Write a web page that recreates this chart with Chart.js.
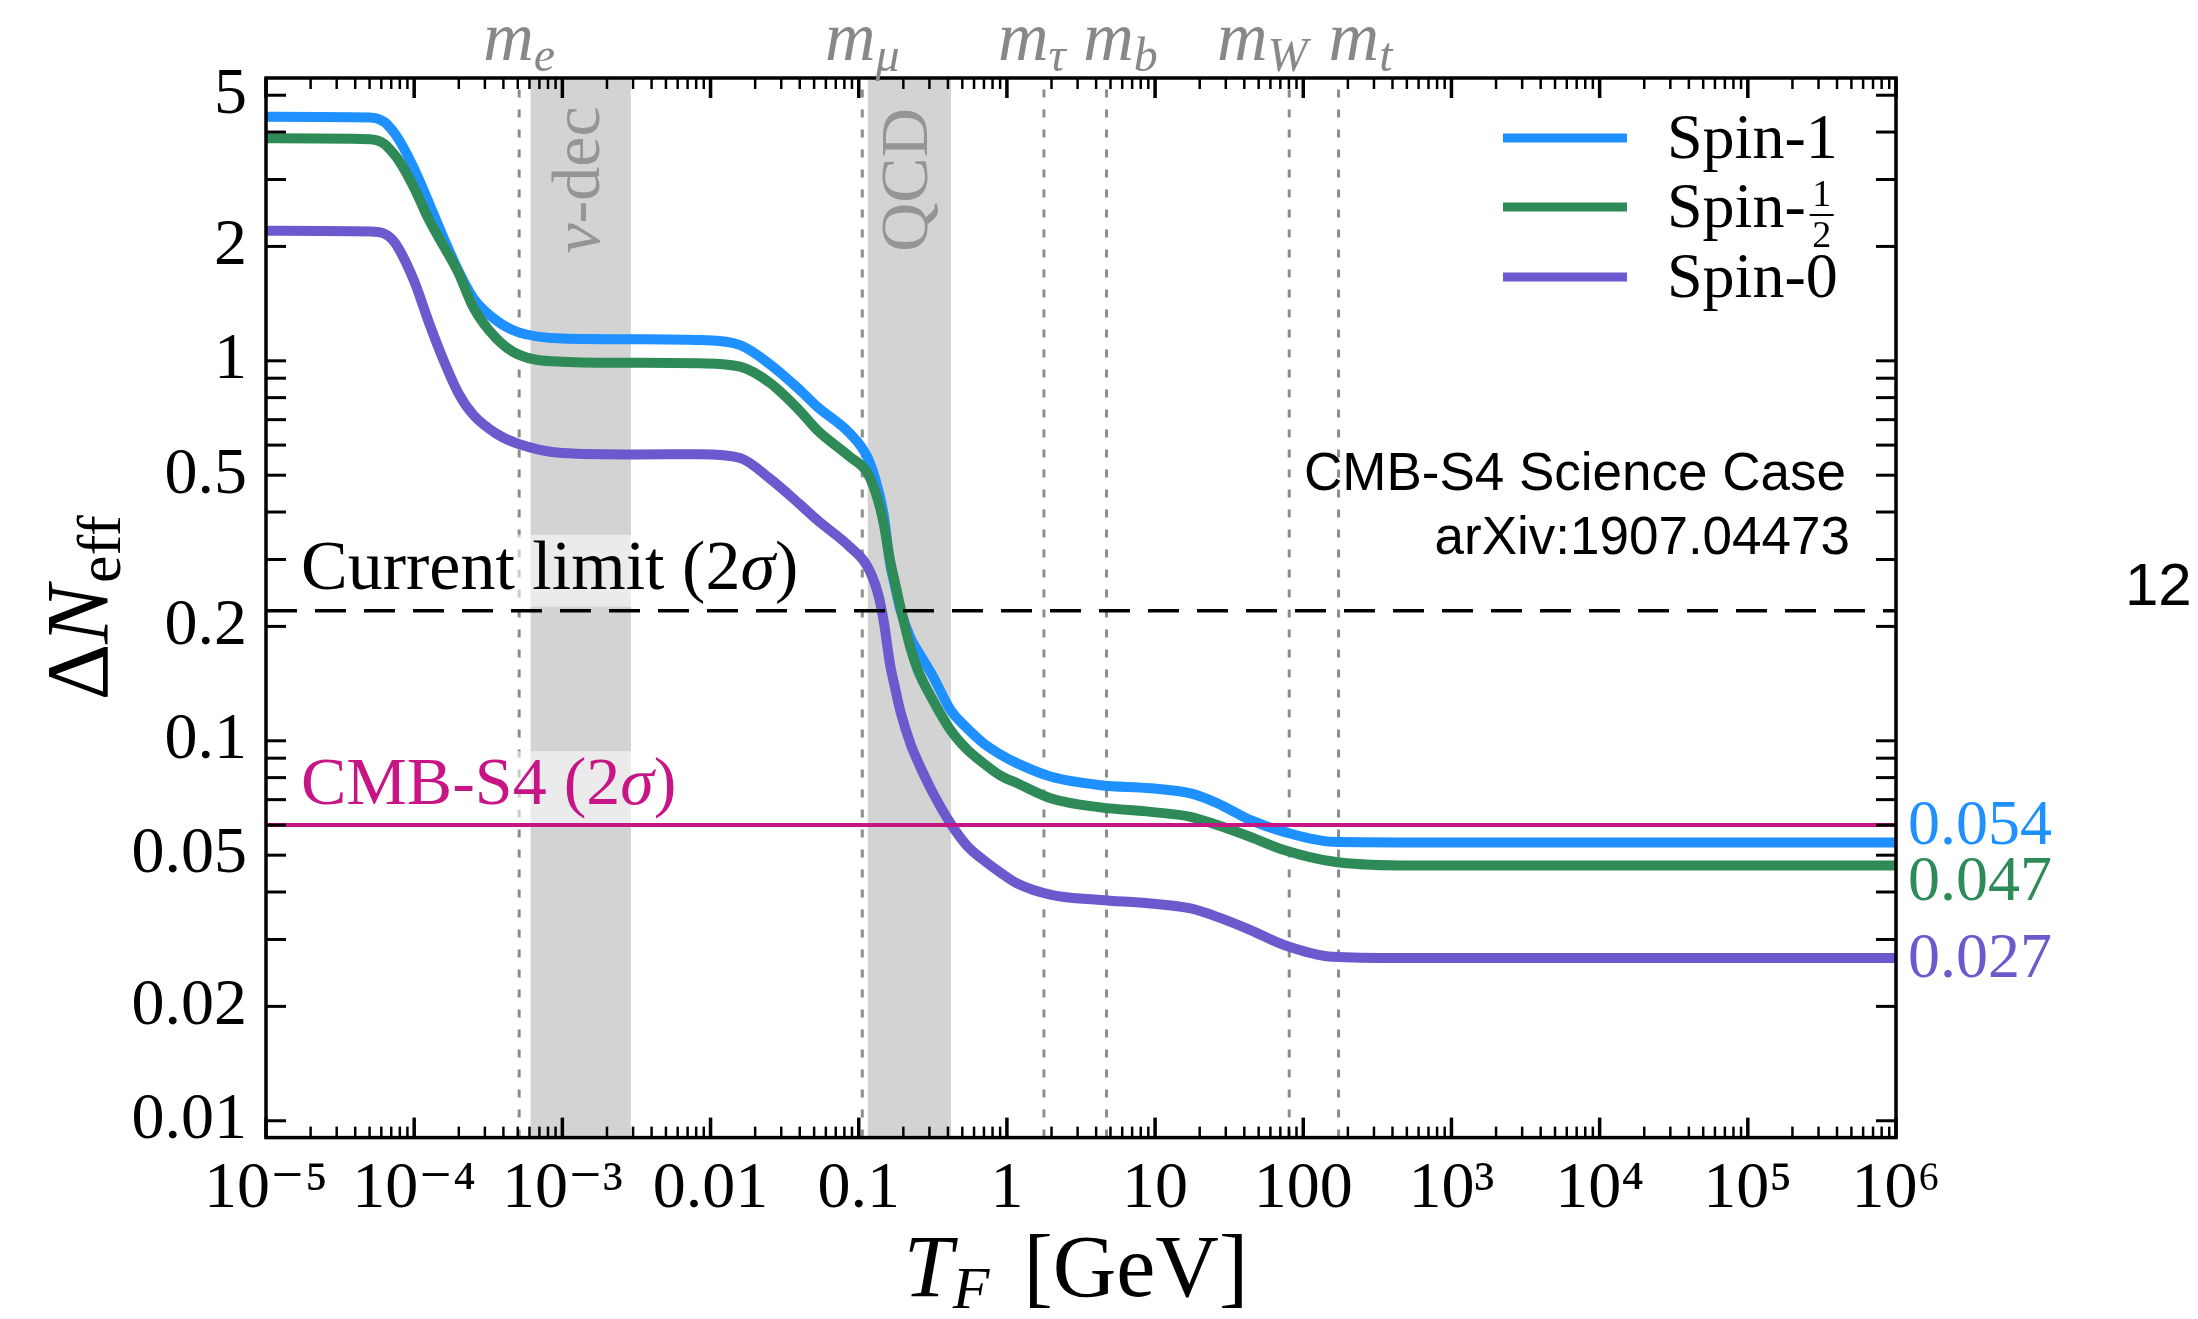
<!DOCTYPE html>
<html>
<head>
<meta charset="utf-8">
<script src="https://cdn.jsdelivr.net/npm/chart.js@4.4.0/dist/chart.umd.min.js"></script>
<style>
  html, body { margin: 0; padding: 0; background: #fff; }
  #wrap { width: 2198px; height: 1319px; }
</style>
</head>
<body>
<div id="wrap"><canvas id="chart" width="2198" height="1319"></canvas></div>
<script>
// log10 of the freeze-out temperature T_F [GeV]
var logTF = [-5, -4.3, -4.2, -4.15, -4.1, -4.0, -3.9, -3.8, -3.7, -3.6, -3.45,
  -3.3, -3.0, -2.5, -2.07, -1.8, -1.6, -1.4, -1.28, -1.06, -0.94,
  -0.87, -0.83, -0.79, -0.75, -0.72, -0.65, -0.6, -0.5, -0.38, -0.27,
  -0.157, -0.044, 0.07, 0.3, 0.63, 0.97, 1.24, 1.42, 1.64, 1.87,
  2.2, 2.65, 6]

var spin1 = [4.39, 4.37, 4.25, 4.05, 3.8, 3.2, 2.6, 2.1, 1.72, 1.46, 1.28,
  1.19, 1.145, 1.14, 1.134, 1.10, 0.98, 0.84, 0.757, 0.644, 0.556,
  0.46, 0.39, 0.295, 0.25, 0.222, 0.186, 0.172, 0.148, 0.1205, 0.108,
  0.0984, 0.092, 0.0872, 0.0804, 0.0764, 0.075, 0.0727, 0.0685, 0.0619, 0.0576,
  0.0542, 0.054, 0.054]

var spinHalf = [3.85, 3.83, 3.72, 3.55, 3.35, 2.85, 2.35, 2.0, 1.7, 1.38, 1.15,
  1.04, 0.995, 0.988, 0.985, 0.965, 0.875, 0.74, 0.657, 0.559, 0.506,
  0.43, 0.37, 0.30, 0.255, 0.226, 0.175, 0.153, 0.128, 0.1067, 0.095,
  0.0872, 0.081, 0.0773, 0.0705, 0.0668, 0.065, 0.0631, 0.060, 0.0559, 0.0516,
  0.0481, 0.047, 0.047]

var spin0 = [2.20, 2.19, 2.16, 2.09, 1.96, 1.62, 1.26, 1.0, 0.82, 0.72, 0.645,
  0.605, 0.572, 0.567, 0.568, 0.555, 0.49, 0.42, 0.381, 0.324, 0.287,
  0.244, 0.205, 0.16, 0.135, 0.12, 0.098, 0.088, 0.073, 0.0606, 0.053,
  0.0485, 0.045, 0.0421, 0.0393, 0.0381, 0.0373, 0.0362, 0.0344, 0.0318, 0.029,
  0.027, 0.0268, 0.0268]

var seriesNames = ['Spin-1', 'Spin-', 'Spin-0']
var seriesColors = ['#1e90ff', '#2e8b57', '#6a5acd']
var finalLabels = ['0.054', '0.047', '0.027']

var xTicks = [1e-5, 1e-4, 1e-3, 0.01, 0.1, 1, 10, 100, 1e3, 1e4, 1e5, 1e6]
var xTickLabels = ['10\u207B\u2075', '10\u207B\u2074', '10\u207B\u00B3', '0.01', '0.1', '1', '10', '100', '10\u00B3', '10\u2074', '10\u2075', '10\u2076']
var yTicks = [0.01, 0.02, 0.05, 0.1, 0.2, 0.5, 1, 2, 5]
var yTickLabels = ['0.01', '0.02', '0.05', '0.1', '0.2', '0.5', '1', '2', '5']

var massNames = ['e', '\u03BC', '\u03C4', 'b', 'W', 't']
var massValues = [0.000511, 0.1057, 1.777, 4.7, 80.4, 173]
var bandNames = ['dec', 'QCD']
var bandRanges = [[0.00061, 0.0029], [0.115, 0.42]]
var currentLimit = 0.22
var cmbS4Limit = 0.06

var SERIF = '"Liberation Serif", "DejaVu Serif", serif'
var SANS = '"Liberation Sans", Arial, sans-serif'

function toPoints(vals){
  return vals.map(function(v, i){ return {x: Math.pow(10, logTF[i]), y: v} })
}

// draw a row of text pieces (for sub/superscripts)
function mathRun(ctx, parts, x, y, align){
  var w = 0
  parts.forEach(function(p){ ctx.font = p.font; p.w = ctx.measureText(p.text).width; w += p.w + (p.gap || 0) })
  var sx = align === 'center' ? x - w / 2 : (align === 'right' ? x - w : x)
  ctx.textAlign = 'left'
  parts.forEach(function(p){
    ctx.font = p.font
    ctx.fillText(p.text, sx, y + (p.dy || 0))
    sx += p.w + (p.gap || 0)
  })
  return w
}

function seg(ctx, x1, y1, x2, y2){
  ctx.beginPath(); ctx.moveTo(x1, y1); ctx.lineTo(x2, y2); ctx.stroke()
}

var decor = {
  id: 'decor',
  beforeDatasetsDraw: function(chart){
    var ctx = chart.ctx, a = chart.chartArea, xs = chart.scales.x, ys = chart.scales.y
    ctx.save()
    ctx.beginPath(); ctx.rect(a.left, a.top, a.right - a.left, a.bottom - a.top); ctx.clip()

    // shaded bands
    ctx.fillStyle = '#d3d3d3'
    bandRanges.forEach(function(r){
      var x1 = xs.getPixelForValue(r[0]), x2 = xs.getPixelForValue(r[1])
      ctx.fillRect(x1, a.top, x2 - x1, a.bottom - a.top)
    })
    // band labels, rotated
    ctx.fillStyle = '#959595'
    ctx.textBaseline = 'middle'
    bandRanges.forEach(function(r, i){
      var cx = (xs.getPixelForValue(r[0]) + xs.getPixelForValue(r[1])) / 2
      ctx.save()
      ctx.translate(cx, a.top + 102)
      ctx.rotate(-Math.PI / 2)
      if (i === 0) {
        mathRun(ctx, [{text: '\u03BD', font: 'italic 68px ' + SERIF}, {text: '-' + bandNames[0], font: '68px ' + SERIF}], 0, 0, 'center')
      } else {
        mathRun(ctx, [{text: bandNames[1], font: '68px ' + SERIF}], 0, 0, 'center')
      }
      ctx.restore()
    })

    // particle mass thresholds
    ctx.strokeStyle = '#8c8c8c'
    ctx.lineWidth = 3
    ctx.setLineDash([8, 12])
    massValues.forEach(function(m){
      var px = xs.getPixelForValue(m)
      seg(ctx, px, a.bottom, px, a.top)
    })
    ctx.setLineDash([])

    // text labels with translucent boxes
    ctx.textBaseline = 'alphabetic'
    var lx = a.left + 35
    var cy = ys.getPixelForValue(currentLimit) - 22
    ctx.font = '70px ' + SERIF
    var w1 = ctx.measureText('Current limit (2\u03C3)').width
    ctx.fillStyle = 'rgba(255,255,255,0.55)'
    ctx.fillRect(lx - 10, cy - 54, w1 + 20, 72)
    ctx.fillStyle = '#000'
    mathRun(ctx, [{text: 'Current limit (2', font: '70px ' + SERIF}, {text: '\u03C3', font: 'italic 70px ' + SERIF}, {text: ')', font: '70px ' + SERIF}], lx, cy, 'left')

    var sy = ys.getPixelForValue(cmbS4Limit) - 21
    ctx.font = '68px ' + SERIF
    var w2 = ctx.measureText('CMB-S4 (2\u03C3)').width
    ctx.fillStyle = 'rgba(255,255,255,0.55)'
    ctx.fillRect(lx - 10, sy - 53, w2 + 20, 72)
    ctx.fillStyle = '#c71585'
    mathRun(ctx, [{text: 'CMB-S4 (2', font: '68px ' + SERIF}, {text: '\u03C3', font: 'italic 68px ' + SERIF}, {text: ')', font: '68px ' + SERIF}], lx, sy, 'left')
    ctx.restore()
  },
  afterDatasetsDraw: function(chart){
    var ctx = chart.ctx, a = chart.chartArea, xs = chart.scales.x, ys = chart.scales.y
    ctx.save()

    // horizontal limits
    var hy = ys.getPixelForValue(currentLimit)
    ctx.strokeStyle = '#000'
    ctx.lineWidth = 3.5
    ctx.setLineDash([31, 18])
    seg(ctx, a.left, hy, a.right, hy)
    ctx.setLineDash([])
    var my = ys.getPixelForValue(cmbS4Limit)
    ctx.strokeStyle = '#c71585'
    ctx.lineWidth = 4
    seg(ctx, a.left, my, a.right, my)

    // frame
    ctx.strokeStyle = '#000'
    ctx.lineWidth = 3.5
    ctx.strokeRect(a.left, a.top, a.right - a.left, a.bottom - a.top)

    // inward ticks on all four sides
    for (var d = -5; d <= 6; d++) {
      for (var k = 1; k <= 9; k++) {
        var v = k * Math.pow(10, d)
        if (v > 1.0001e6) break
        var px = xs.getPixelForValue(v)
        var len = k === 1 ? 20 : 11
        ctx.lineWidth = k === 1 ? 3.5 : 2.5
        seg(ctx, px, a.bottom, px, a.bottom - len)
        seg(ctx, px, a.top, px, a.top + len)
      }
    }
    ctx.lineWidth = 3
    for (d = -3; d <= 0; d++) {
      for (k = 1; k <= 9; k++) {
        v = k * Math.pow(10, d)
        if (v < ys.min || v > ys.max) continue
        var py = ys.getPixelForValue(v)
        seg(ctx, a.left, py, a.left + 20, py)
        seg(ctx, a.right, py, a.right - 20, py)
      }
    }

    // mass labels above the frame (nudged apart where crowded)
    var nudge = [0, 0, -12, 14, -27, 22]
    ctx.fillStyle = '#888'
    ctx.textBaseline = 'alphabetic'
    massValues.forEach(function(m, i){
      var px = xs.getPixelForValue(m) + nudge[i]
      mathRun(ctx, [{text: 'm', font: 'italic 70px ' + SERIF}, {text: massNames[i], font: 'italic 48px ' + SERIF, dy: 11}], px, a.top - 18, 'center')
    })

    // legend
    var lx1 = a.right - 393, lx2 = a.right - 269, tx = a.right - 229
    var rows = [60, 129, 199]
    seriesColors.forEach(function(c, i){
      var yy = a.top + rows[i]
      ctx.strokeStyle = c
      ctx.lineWidth = 9
      seg(ctx, lx1, yy, lx2, yy)
      ctx.fillStyle = '#000'
      ctx.textAlign = 'left'
      ctx.font = '64px ' + SERIF
      ctx.fillText(seriesNames[i], tx, yy + 20)
      if (i === 1) {
        var fx = tx + ctx.measureText(seriesNames[i]).width + 4
        ctx.font = '38px ' + SERIF
        ctx.textAlign = 'center'
        ctx.fillText('1', fx + 12, yy - 1)
        ctx.fillText('2', fx + 12, yy + 40)
        ctx.lineWidth = 2
        ctx.strokeStyle = '#000'
        seg(ctx, fx, yy + 8, fx + 24, yy + 8)
        ctx.textAlign = 'left'
      }
    })

    // source note
    ctx.fillStyle = '#000'
    ctx.textAlign = 'right'
    ctx.font = '53px ' + SANS
    ctx.fillText('CMB-S4 Science Case', a.right - 50, a.top + 412)
    ctx.fillText('arXiv:1907.04473', a.right - 46, a.top + 476)

    // final values at the right edge
    var offs = [-15, 18, 2]
    ctx.textAlign = 'left'
    ctx.textBaseline = 'middle'
    ctx.font = '64px ' + SERIF
    var lastVals = [spin1[spin1.length - 1], spinHalf[spinHalf.length - 1], spin0[spin0.length - 1]]
    lastVals.forEach(function(v, i){
      ctx.fillStyle = seriesColors[i]
      ctx.fillText(finalLabels[i], a.right + 12, ys.getPixelForValue(v) + offs[i])
    })

    // axis titles
    ctx.fillStyle = '#000'
    ctx.textBaseline = 'alphabetic'
    mathRun(ctx, [
      {text: 'T', font: 'italic 88px ' + SERIF},
      {text: 'F', font: 'italic 60px ' + SERIF, dy: 12, gap: 34},
      {text: '[GeV]', font: '88px ' + SERIF}
    ], (a.left + a.right) / 2 - 5, 1296, 'center')

    ctx.save()
    ctx.translate(107, (a.top + a.bottom) / 2)
    ctx.rotate(-Math.PI / 2)
    mathRun(ctx, [
      {text: '\u0394', font: '88px ' + SERIF},
      {text: 'N', font: 'italic 88px ' + SERIF, gap: 2},
      {text: 'eff', font: '62px ' + SERIF, dy: 13}
    ], 0, 0, 'center')
    ctx.restore()

    // page number fragment at the right margin
    ctx.font = '60px ' + SANS
    ctx.textAlign = 'left'
    ctx.fillText('12', 2125, 605)
    ctx.restore()
  }
}

function lineSet(label, vals, color, order){
  return {
    label: label, data: toPoints(vals), borderColor: color, order: order,
    borderWidth: 10, cubicInterpolationMode: 'monotone', pointRadius: 0, fill: false
  }
}

var chart = new Chart(document.getElementById('chart'), {
  type: 'line',
  data: {
    datasets: [
      lineSet('Spin-1', spin1, seriesColors[0], 3),
      lineSet('Spin-1/2', spinHalf, seriesColors[1], 2),
      lineSet('Spin-0', spin0, seriesColors[2], 1)
    ]
  },
  options: {
    responsive: false,
    devicePixelRatio: 1,
    animation: false,
    layout: {padding: {left: 0, right: 302, top: 78, bottom: 0}},
    plugins: {legend: {display: false}, tooltip: {enabled: false}},
    scales: {
      x: {
        type: 'logarithmic',
        min: 1e-5, max: 1e6, bounds: 'data',
        grid: {display: false, drawTicks: false},
        border: {display: false},
        afterBuildTicks: function(s){ s.ticks = xTicks.map(function(v){ return {value: v} }) },
        afterFit: function(s){ s.height = 181.4 },
        ticks: {
          autoSkip: false, maxRotation: 0, minRotation: 0, padding: 12,
          color: '#000', font: {family: SERIF, size: 66},
          callback: function(v, i){ return xTickLabels[i] }
        }
      },
      y: {
        type: 'logarithmic',
        min: 0.00903, max: 5.55, bounds: 'data',
        grid: {display: false, drawTicks: false},
        border: {display: false},
        afterBuildTicks: function(s){ s.ticks = yTicks.map(function(v){ return {value: v} }) },
        afterFit: function(s){ s.width = 266 },
        ticks: {
          autoSkip: false, padding: 19,
          color: '#000', font: {family: SERIF, size: 66},
          callback: function(v, i){ return yTickLabels[i] }
        }
      }
    }
  },
  plugins: [decor]
})
</script>
</body>
</html>
